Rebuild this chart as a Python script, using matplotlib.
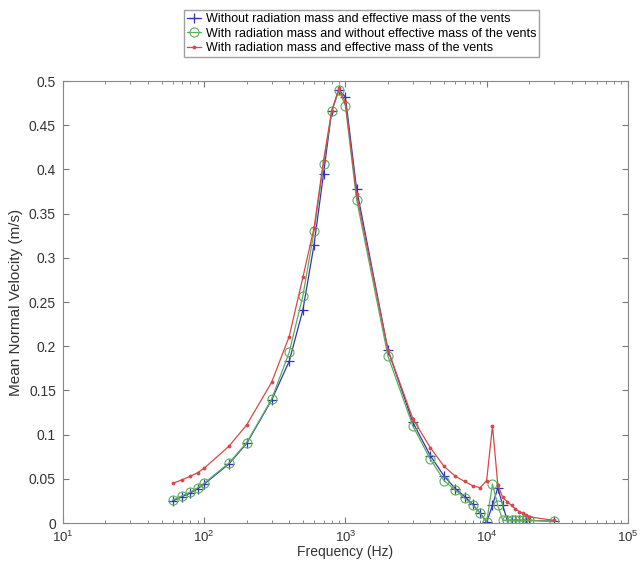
import numpy as np
import matplotlib.pyplot as plt
from matplotlib.ticker import LogLocator, NullFormatter, MultipleLocator, FuncFormatter

plt.rcParams['font.family'] = ['Liberation Sans', 'DejaVu Sans']

# -----------------------------
# Data
# -----------------------------
freq = [60, 70, 80, 90, 100, 150, 200, 300, 400, 500, 600, 700, 800, 900,
        1000, 1200, 2000, 3000, 4000, 5000, 6000, 7000, 8000, 9000,
        10000, 11000, 12000, 13000, 14000, 15000, 16000, 17000, 18000,
        19000, 20000, 30000]

v_without = [0.025, 0.030, 0.034, 0.039, 0.044, 0.067, 0.090, 0.139, 0.183,
             0.241, 0.315, 0.395, 0.466, 0.490, 0.482, 0.378, 0.196, 0.114,
             0.076, 0.053, 0.039, 0.030, 0.021, 0.011, 0.001, 0.020, 0.040,
             0.020, 0.003, 0.003, 0.003, 0.003, 0.003, 0.003, 0.003, 0.002]

v_rad_only = [0.026, 0.031, 0.035, 0.040, 0.045, 0.068, 0.091, 0.140, 0.193,
              0.257, 0.330, 0.406, 0.466, 0.490, 0.472, 0.366, 0.189, 0.110,
              0.072, 0.048, 0.037, 0.028, 0.020, 0.011, 0.001, 0.044, 0.020,
              0.003, 0.003, 0.003, 0.003, 0.003, 0.003, 0.003, 0.003, 0.002]

v_rad_eff = [0.045, 0.049, 0.053, 0.057, 0.062, 0.087, 0.111, 0.159, 0.211,
             0.278, 0.334, 0.410, 0.466, 0.492, 0.476, 0.372, 0.196, 0.118,
             0.085, 0.064, 0.053, 0.047, 0.042, 0.040, 0.048, 0.110, 0.043,
             0.029, 0.024, 0.020, 0.016, 0.013, 0.011, 0.009, 0.007, 0.003]

labels = ["Without radiation mass and effective mass of the vents",
          "With radiation mass and without effective mass of the vents",
          "With radiation mass and effective mass of the vents"]

# -----------------------------
# Plot
# -----------------------------
fig = plt.figure(figsize=(6.42, 5.63), dpi=100)
ax = fig.add_axes([0.098, 0.071, 0.880, 0.785])

ax.plot(freq, v_without, color="#3434b8", lw=0.9, marker="+", ms=7, mew=0.9,
        label=labels[0])
ax.plot(freq, v_rad_only, color="#5cae5c", lw=0.9, marker="o", ms=6.5,
        mfc="none", mew=0.8, label=labels[1])
ax.plot(freq, v_rad_eff, color="#d84848", lw=0.9, marker=".", ms=3.5,
        label=labels[2])

ax.set_xscale("log")
ax.set_xlim(10, 1e5)
ax.set_ylim(0, 0.5)

ax.xaxis.set_major_locator(LogLocator(base=10, numticks=10))
ax.xaxis.set_minor_locator(LogLocator(base=10, subs=np.arange(2, 10), numticks=10))
ax.xaxis.set_minor_formatter(NullFormatter())
ax.yaxis.set_major_locator(MultipleLocator(0.05))
ax.yaxis.set_major_formatter(FuncFormatter(lambda v, p: f"{v:.2f}".rstrip("0").rstrip(".")))

ax.tick_params(which="both", direction="in", top=True, right=True,
               colors="#777777", labelcolor="#333333", labelsize=10)
ax.tick_params(axis="x", labelsize=9.5)
ax.tick_params(which="major", length=4)
ax.tick_params(which="minor", length=2)
ax.tick_params(axis="x", which="major", pad=5)
ax.tick_params(axis="y", which="major", pad=5)
for s in ax.spines.values():
    s.set_color("#888888")

ax.set_xlabel("Frequency (Hz)", fontsize=10, color="#333333", labelpad=0)
ax.set_ylabel("Mean Normal Velocity (m/s)", fontsize=11, color="#333333", labelpad=4)

fig.legend(loc="upper center", bbox_to_anchor=(0.563, 0.993), fontsize=9.0,
           frameon=True, fancybox=False, edgecolor="#888888",
           handlelength=1.1, borderpad=0.25, labelspacing=0.2, handletextpad=0.4)

fig.savefig("out.png", dpi=100)
